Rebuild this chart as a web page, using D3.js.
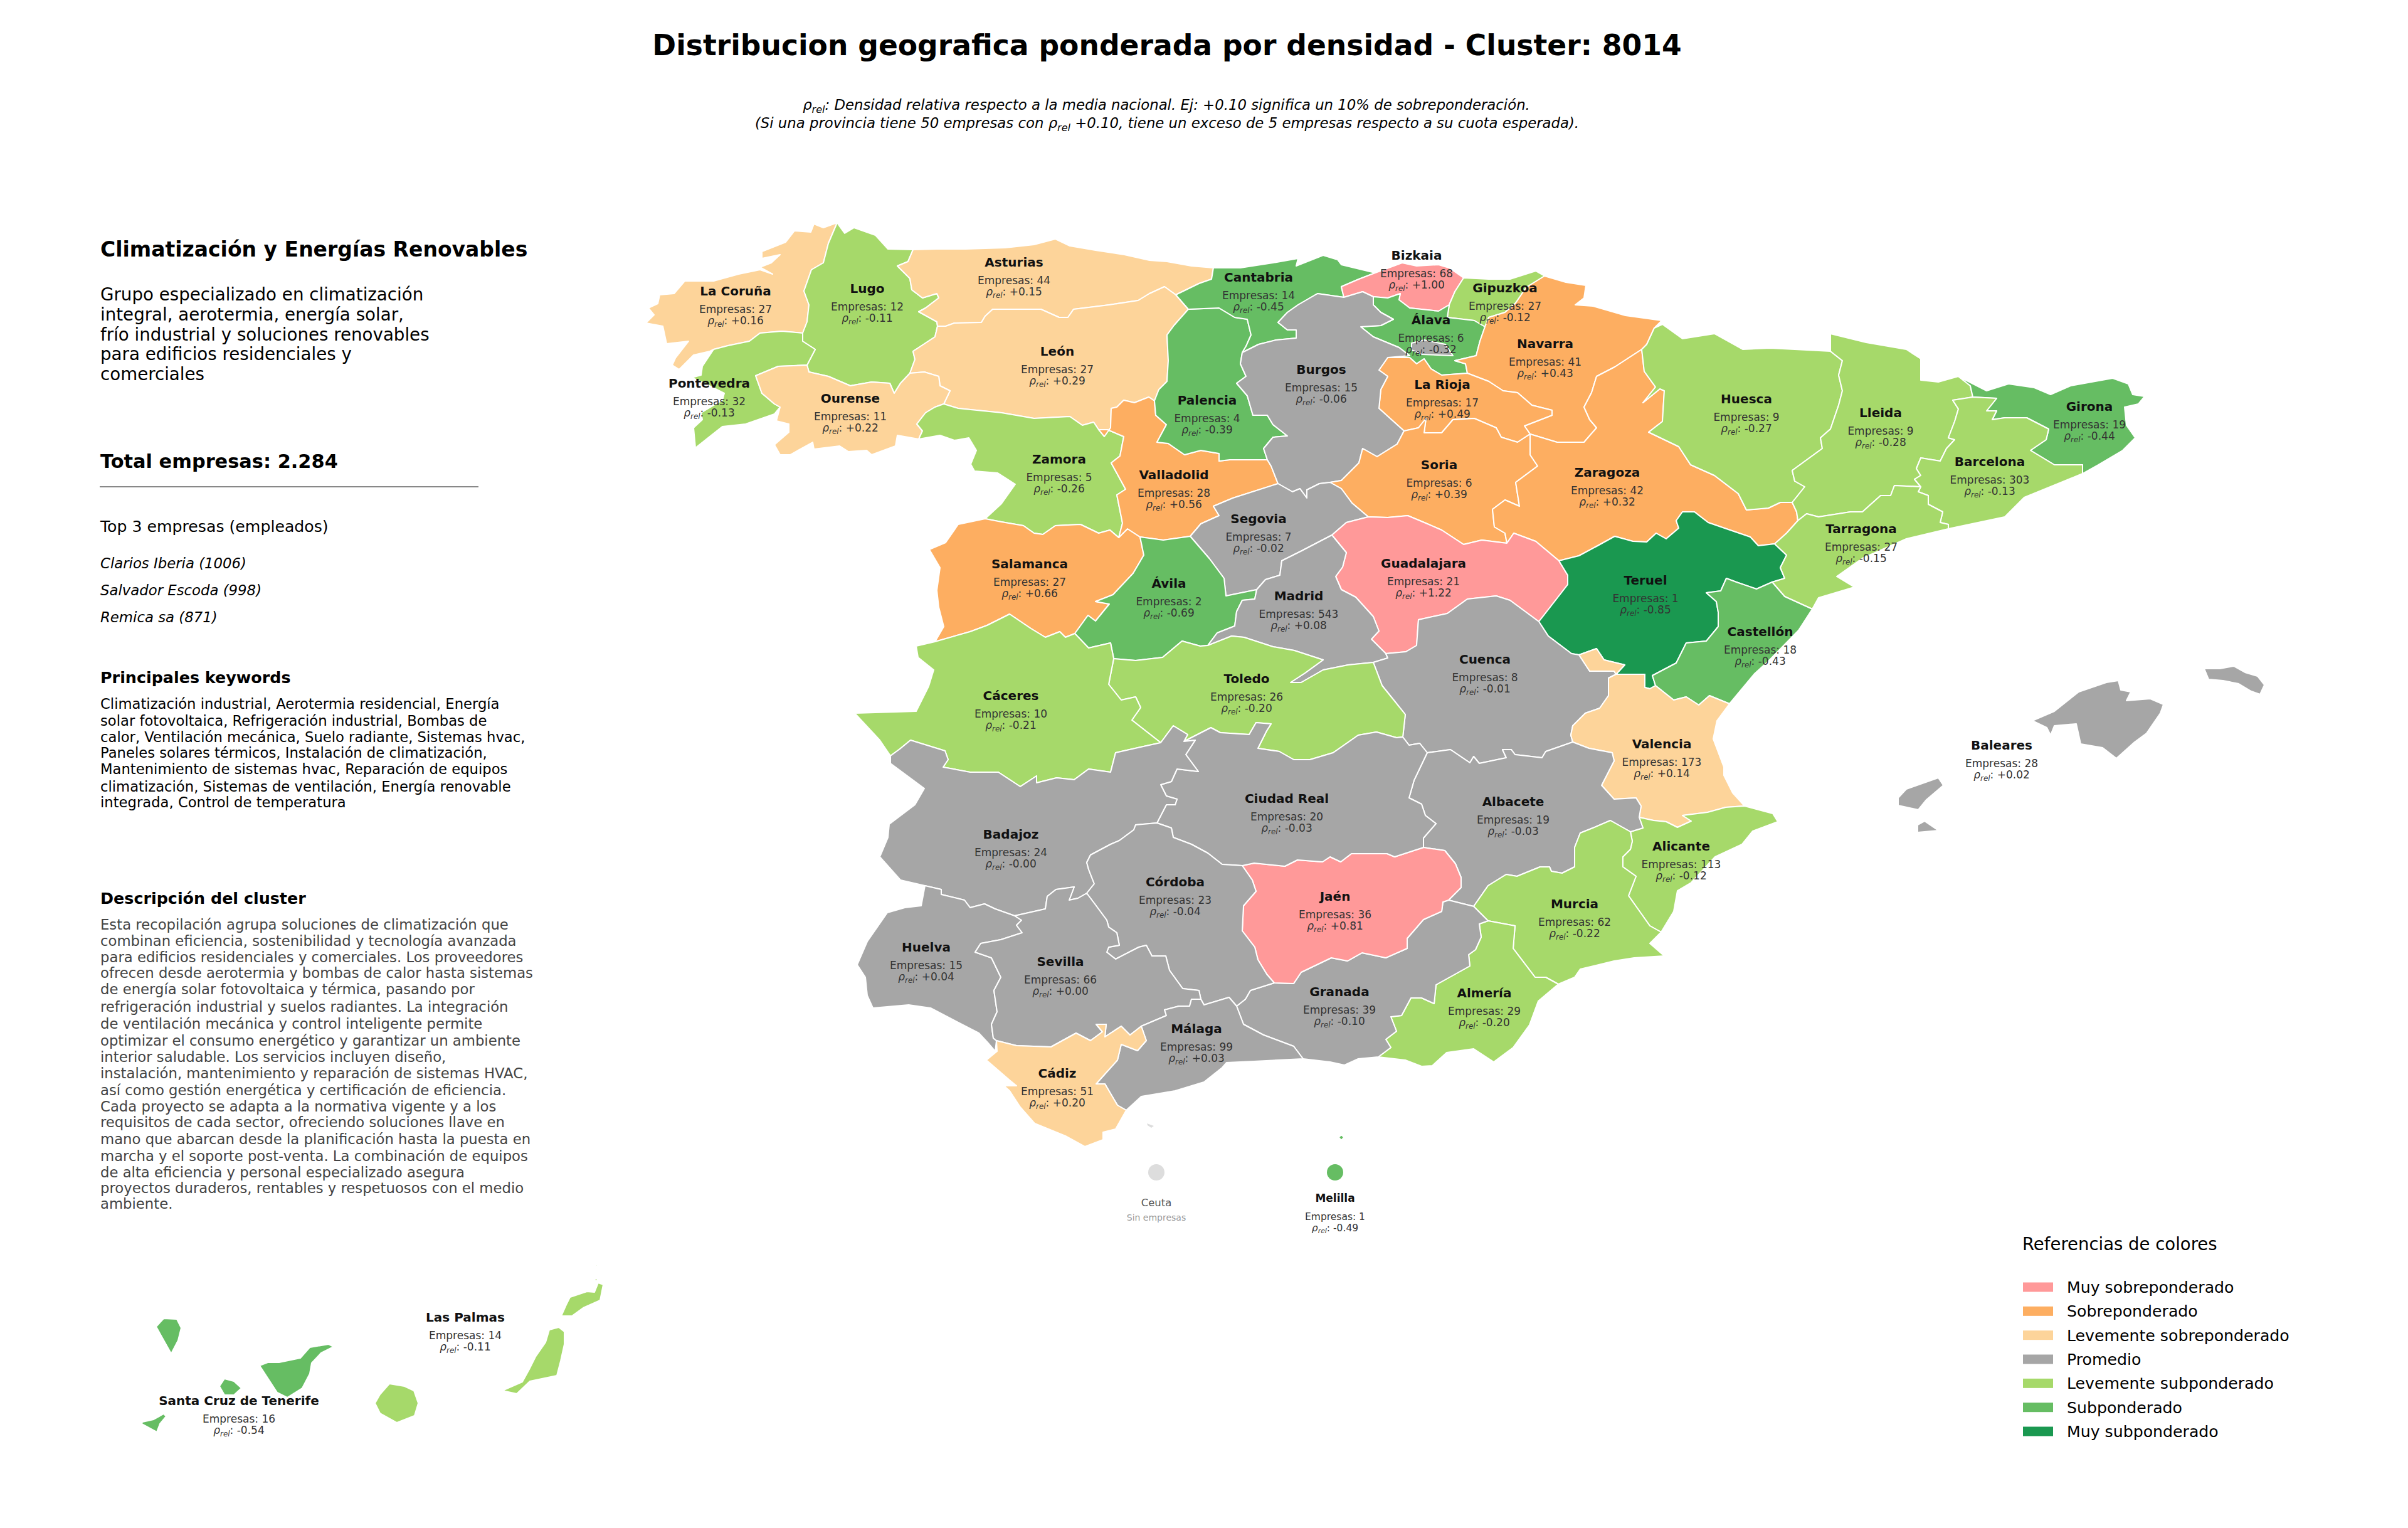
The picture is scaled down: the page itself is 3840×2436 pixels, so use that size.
<!DOCTYPE html>
<html>
<head>
<meta charset="utf-8">
<script src="https://cdn.jsdelivr.net/npm/d3@7"></script>
<style>
  html, body { margin: 0; padding: 0; background: #fff; }
  svg { display: block; font-family: "DejaVu Sans", sans-serif; }
</style>
</head>
<body>
<svg id="chart" width="3840" height="2436"></svg>
<script>
// values
const provinceNames = ["La Coruña","Lugo","Asturias","León","Pontevedra","Ourense","Zamora","Salamanca","Valladolid","Palencia",
  "Cantabria","Bizkaia","Gipuzkoa","Álava","Navarra","La Rioja","Burgos","Soria","Segovia","Zaragoza",
  "Guadalajara","Ávila","Madrid","Teruel","Cuenca","Toledo","Huesca","Lleida","Girona","Barcelona",
  "Tarragona","Castellón","Baleares","Valencia","Alicante","Albacete","Murcia","Almería","Granada","Jaén",
  "Ciudad Real","Cáceres","Badajoz","Córdoba","Huelva","Sevilla","Málaga","Cádiz","Las Palmas","Santa Cruz de Tenerife","Melilla"];
const empresas = [27,12,44,27,32,11,5,27,28,4,
  14,68,27,6,41,17,15,6,7,42,
  21,2,543,1,8,26,9,9,19,303,
  27,18,28,173,113,19,62,29,39,36,
  20,10,24,23,15,66,99,51,14,16,1];
const rhoRel = [0.16,-0.11,0.15,0.29,-0.13,0.22,-0.26,0.66,0.56,-0.39,
  -0.45,1.00,-0.12,-0.32,0.43,0.49,-0.06,0.39,-0.02,0.32,
  1.22,-0.69,0.08,-0.85,-0.01,-0.20,-0.27,-0.28,-0.44,-0.13,
  -0.15,-0.43,0.02,0.14,-0.12,-0.03,-0.22,-0.20,-0.10,0.81,
  -0.03,-0.21,-0,-0.04,0.04,0.00,0.03,0.20,-0.11,-0.54,-0.49];

const legendLabels = ["Muy sobreponderado","Sobreponderado","Levemente sobreponderado","Promedio","Levemente subponderado","Subponderado","Muy subponderado"];
const topCompanies = ["Clarios Iberia (1006)","Salvador Escoda (998)","Remica sa (871)"];
const groupLines = ["Grupo especializado en climatización","integral, aerotermia, energía solar,","frío industrial y soluciones renovables","para edificios residenciales y","comerciales"];
const keywordLines = ["Climatización industrial, Aerotermia residencial, Energía","solar fotovoltaica, Refrigeración industrial, Bombas de","calor, Ventilación mecánica, Suelo radiante, Sistemas hvac,","Paneles solares térmicos, Instalación de climatización,","Mantenimiento de sistemas hvac, Reparación de equipos","climatización, Sistemas de ventilación, Energía renovable","integrada, Control de temperatura"];
const descriptionLines = ["Esta recopilación agrupa soluciones de climatización que","combinan eficiencia, sostenibilidad y tecnología avanzada","para edificios residenciales y comerciales. Los proveedores","ofrecen desde aerotermia y bombas de calor hasta sistemas","de energía solar fotovoltaica y térmica, pasando por","refrigeración industrial y suelos radiantes. La integración","de ventilación mecánica y control inteligente permite","optimizar el consumo energético y garantizar un ambiente","interior saludable. Los servicios incluyen diseño,","instalación, mantenimiento y reparación de sistemas HVAC,","así como gestión energética y certificación de eficiencia.","Cada proyecto se adapta a la normativa vigente y a los","requisitos de cada sector, ofreciendo soluciones llave en","mano que abarcan desde la planificación hasta la puesta en","marcha y el soporte post-venta. La combinación de equipos","de alta eficiencia y personal especializado asegura","proyectos duraderos, rentables y respetuosos con el medio","ambiente."];

// province borders, shared between neighbours
const arcs = {
  coruCoast: [[1335,355],[1313,363],[1298,357],[1293,370],[1267,368],[1253,386],[1215,401],[1215,412],[1244,406],[1230,419],[1212,426],[1232,437],[1212,430],[1178,437],[1138,448],[1092,448],[1075,468],[1052,470],[1049,484],[1034,491],[1043,502],[1030,515],[1057,520],[1063,548],[1098,544],[1077,571],[1072,582],[1083,589],[1106,566],[1132,560],[1138,557]],
  coruPont: [[1138,557],[1161,551],[1195,544],[1212,531],[1247,528],[1280,531]],
  coruLugo: [[1280,531],[1287,513],[1290,486],[1282,464],[1294,430],[1313,419],[1321,388],[1335,355]],
  lugoCoast: [[1335,355],[1339,361],[1347,372],[1362,363],[1396,375],[1416,397],[1456,398]],
  lugoAst: [[1456,398],[1448,417],[1431,424],[1451,444],[1454,462],[1471,475],[1494,468],[1497,475],[1476,491],[1465,497],[1494,513],[1495,520]],
  lugoLeon: [[1495,520],[1491,537],[1456,560],[1459,573],[1451,595]],
  lugoOur: [[1451,595],[1436,611],[1426,627],[1419,611],[1390,609],[1356,615],[1321,600],[1290,593],[1287,582]],
  lugoPont: [[1287,582],[1300,557],[1280,544],[1280,531]],
  pontCoast: [[1138,557],[1120,584],[1118,598],[1103,602],[1125,612],[1155,627],[1152,638],[1118,658],[1120,669],[1106,682],[1109,714],[1138,691],[1152,680],[1189,676],[1235,660],[1244,649]],
  pontOur: [[1244,649],[1235,644],[1215,627],[1205,599],[1241,584],[1287,582]],
  ourLeon: [[1451,595],[1474,593],[1497,600],[1499,615],[1515,623],[1505,644]],
  ourZam: [[1505,644],[1491,649],[1476,658],[1462,676],[1471,687],[1465,700]],
  ourSouth: [[1465,700],[1431,694],[1428,711],[1390,725],[1382,718],[1353,720],[1339,711],[1298,716],[1296,705],[1260,725],[1244,725],[1235,709],[1258,689],[1258,676],[1238,671],[1241,660],[1244,649]],
  astCoast: [[1456,398],[1494,397],[1540,397],[1603,395],[1649,390],[1683,381],[1706,392],[1747,399],[1793,406],[1833,415],[1861,417],[1900,424],[1935,427]],
  astCant: [[1935,427],[1932,445],[1912,452],[1875,470]],
  astLeon: [[1495,520],[1508,520],[1522,515],[1565,514],[1571,504],[1583,493],[1611,493],[1660,493],[1689,506],[1703,506],[1712,493],[1769,486],[1815,479],[1833,468],[1857,457],[1875,470]],
  leonCant: [[1875,470],[1895,493]],
  leonPal: [[1895,493],[1872,519],[1861,534],[1863,575],[1861,608],[1848,621],[1841,639]],
  leonVall: [[1841,639],[1832,633],[1809,642],[1792,638],[1781,649],[1772,651],[1771,682],[1761,696],[1752,685]],
  zamLeon: [[1505,644],[1528,651],[1597,658],[1649,667],[1706,664],[1726,678],[1744,673],[1752,685]],
  zamPort: [[1465,700],[1499,694],[1522,702],[1545,698],[1557,718],[1548,740],[1554,751],[1591,754],[1619,772],[1597,803],[1571,827]],
  zamVall: [[1752,685],[1766,685],[1792,696],[1786,727],[1772,738],[1795,780],[1781,789],[1790,834],[1784,857]],
  zamSal: [[1784,857],[1770,845],[1752,850],[1723,836],[1683,838],[1663,852],[1649,850],[1632,838],[1597,832],[1571,827]],
  salPort: [[1571,827],[1528,836],[1508,865],[1482,876],[1499,905],[1494,941],[1497,968],[1505,999],[1491,1023]],
  salCac: [[1491,1023],[1547,1007],[1574,997],[1610,979],[1644,1002],[1667,1016],[1690,1007],[1699,1016],[1714,1010]],
  salVall: [[1784,857],[1798,843],[1818,856]],
  salAvi: [[1818,856],[1824,885],[1807,914],[1775,948],[1747,959],[1769,963],[1747,990],[1735,981],[1714,1010]],
  avVall: [[1818,856],[1855,861],[1898,855]],
  valSeg: [[1898,855],[1915,835],[1944,822],[1935,807],[1966,794],[2038,771]],
  valBur: [[2038,771],[2027,743],[2021,733]],
  valPal: [[2021,733],[1989,733],[1961,733],[1944,735],[1944,723],[1915,718],[1889,725],[1863,707],[1845,705],[1860,677],[1843,662],[1841,639]],
  palCant: [[1895,493],[1944,491],[1969,506],[1989,509],[1995,534],[1987,552],[1981,562]],
  palBur: [[1981,562],[1978,580],[1987,600],[1972,611],[1989,631],[1998,662],[2021,662],[2030,677],[2053,695],[2030,697],[2015,715],[2021,733]],
  cantCoast: [[1935,427],[1978,427],[2030,419],[2070,412],[2067,424],[2110,407],[2133,414],[2139,422],[2193,435]],
  cantEnd: [[2193,435],[2167,445],[2139,457],[2143,474]],
  cantBur: [[2143,474],[2101,468],[2070,486],[2053,498],[2038,514],[2053,526],[2067,526],[2067,539],[2035,542],[2007,549],[1981,562]],
  burBiz: [[2143,474],[2173,465],[2190,473]],
  burAla: [[2190,473],[2190,486],[2202,498],[2222,509],[2202,519],[2170,521],[2190,537],[2231,554],[2248,567],[2213,570]],
  burRio: [[2213,570],[2199,590],[2213,600],[2202,621],[2199,651],[2239,687]],
  burSor: [[2239,687],[2228,708],[2196,728],[2173,715],[2167,738],[2139,766],[2121,769]],
  burSeg: [[2121,769],[2104,771],[2084,781],[2084,794],[2073,779],[2061,784],[2038,771]],
  bizCoast: [[2193,435],[2236,419],[2259,424],[2294,422],[2311,427],[2334,443]],
  bizGip: [[2334,443],[2320,465],[2311,486]],
  bizAla: [[2311,486],[2294,496],[2248,491],[2231,478],[2233,468],[2213,475],[2190,473]],
  gipCoast: [[2334,443],[2374,445],[2408,445],[2449,432],[2463,440]],
  gipNav: [[2463,440],[2434,458],[2417,483],[2400,498],[2374,506],[2368,521]],
  gipAla: [[2368,521],[2351,511],[2308,506],[2311,486]],
  alaNav: [[2368,521],[2360,544],[2354,567],[2320,575],[2337,580],[2340,595]],
  alaRio: [[2340,595],[2299,598],[2282,588],[2271,572],[2259,580],[2248,570],[2213,570]],
  rioNav: [[2340,595],[2374,608],[2397,623],[2420,626],[2443,646],[2475,654],[2475,662],[2431,679],[2440,692]],
  rioSor: [[2239,687],[2262,682],[2274,667],[2271,690],[2299,690],[2317,669],[2351,667],[2386,682],[2394,697],[2420,705],[2440,692]],
  navCoast: [[2463,440],[2497,450],[2529,455],[2526,475],[2512,486],[2540,488],[2592,503],[2650,511],[2638,523]],
  navHue: [[2638,523],[2626,549],[2618,557]],
  navZar: [[2618,557],[2575,585],[2546,600],[2538,626],[2526,649],[2535,669],[2546,682],[2526,705],[2483,705],[2440,692]],
  hueTop: [[2638,523],[2651,517],[2683,540],[2734,532],[2779,557],[2823,555],[2862,557],[2919,560]],
  hueLle: [[2919,560],[2938,575],[2932,598],[2938,623],[2932,646],[2919,684],[2903,698],[2906,715],[2858,750],[2862,767],[2878,776],[2858,801]],
  hueZar: [[2618,557],[2622,592],[2640,617],[2620,642],[2647,620],[2654,623],[2651,672],[2629,689],[2677,712],[2696,741],[2734,758],[2772,787],[2785,813],[2820,810],[2839,801],[2858,801]],
  zarLle: [[2858,801],[2865,816],[2867,830]],
  zarTar: [[2867,830],[2849,850],[2830,867]],
  zarTer: [[2830,867],[2804,870],[2791,856],[2750,842],[2724,833],[2702,816],[2683,816],[2673,830],[2677,842],[2657,859],[2641,850],[2626,864],[2604,863],[2575,855],[2546,871],[2518,886],[2486,894]],
  zarGua: [[2486,894],[2449,863],[2414,850],[2403,866]],
  zarSor: [[2403,866],[2400,850],[2383,840],[2380,812],[2400,797],[2423,807],[2417,769],[2452,743],[2440,725],[2440,692]],
  sorGua: [[2403,866],[2363,861],[2334,868],[2299,845],[2276,835],[2245,822],[2213,825],[2182,824]],
  sorSeg: [[2182,824],[2156,802],[2139,779],[2121,769]],
  segGua: [[2182,824],[2147,833],[2124,853]],
  segMad: [[2124,853],[2099,866],[2076,878],[2044,894],[2041,917],[2018,924],[2004,940]],
  segAvi: [[2004,940],[1955,950],[1952,922],[1929,891],[1898,855]],
  aviMad: [[2004,940],[2001,955],[1981,957],[1972,975],[1969,998],[1941,1009],[1926,1029]],
  aviTol: [[1926,1029],[1914,1030],[1885,1022],[1854,1048],[1811,1053],[1776,1050]],
  aviCac: [[1776,1050],[1771,1025],[1736,1033],[1714,1010]],
  madGua: [[2124,853],[2147,881],[2141,904],[2130,919],[2139,940],[2162,952],[2190,983],[2199,1006],[2187,1019],[2210,1042]],
  madCue: [[2210,1042],[2213,1049],[2190,1056]],
  madTol: [[1926,1029],[1964,1014],[1984,1016],[2030,1031],[2064,1037],[2110,1052],[2081,1073],[2058,1088],[2075,1088],[2110,1068],[2150,1060],[2190,1056]],
  guaCue: [[2210,1042],[2242,1039],[2259,1029],[2262,988],[2308,978],[2340,955],[2386,950],[2408,957],[2454,991]],
  guaTer: [[2454,991],[2472,968],[2500,932],[2500,917],[2486,894]],
  terTar: [[2830,867],[2849,885],[2839,905],[2846,922],[2826,928]],
  terCas: [[2826,928],[2801,939],[2769,928],[2753,922],[2744,942],[2721,945],[2737,959],[2740,976],[2740,999],[2721,1022],[2689,1025],[2673,1057],[2635,1077],[2640,1093]],
  terVal: [[2640,1093],[2631,1098],[2623,1096],[2623,1075],[2577,1075]],
  terAde: [[2577,1075],[2591,1060],[2558,1052],[2546,1034],[2518,1044]],
  terCue: [[2518,1044],[2506,1042],[2469,1014],[2454,991]],
  ademCue: [[2518,1044],[2535,1070],[2574,1070],[2577,1075]],
  valCue: [[2508,1183],[2505,1172],[2508,1157],[2528,1137],[2551,1129],[2565,1109],[2565,1081],[2577,1075]],
  cueAlb: [[2276,1200],[2313,1195],[2344,1216],[2350,1206],[2359,1217],[2402,1208],[2396,1195],[2410,1195],[2416,1203],[2459,1208],[2465,1198],[2508,1183]],
  cueCr: [[2237,1175],[2247,1188],[2264,1185],[2276,1200]],
  tolCue: [[2190,1056],[2204,1093],[2221,1114],[2241,1139],[2237,1175]],
  tolCr: [[2237,1175],[2227,1176],[2195,1167],[2166,1172],[2126,1200],[2089,1211],[2063,1211],[2040,1198],[2006,1193],[2020,1165],[2027,1154],[2003,1152],[1992,1171],[1946,1168],[1931,1160],[1888,1182]],
  tolBad: [[1888,1182],[1894,1171],[1871,1157],[1851,1184]],
  cacTol: [[1851,1184],[1805,1148],[1819,1128],[1811,1111],[1788,1116],[1768,1091],[1776,1050]],
  cacPort: [[1491,1023],[1461,1030],[1464,1048],[1489,1068],[1481,1094],[1461,1134],[1363,1137],[1403,1180],[1420,1205]],
  cacBad: [[1420,1205],[1435,1194],[1452,1180],[1507,1197],[1512,1211],[1504,1223],[1547,1231],[1592,1231],[1627,1254],[1653,1237],[1653,1248],[1685,1240],[1713,1243],[1736,1226],[1771,1231],[1779,1200],[1819,1191],[1851,1184]],
  crBad: [[1888,1182],[1906,1180],[1891,1203],[1911,1230],[1877,1226],[1868,1246],[1851,1251],[1860,1269],[1877,1274],[1874,1283],[1860,1283],[1845,1312]],
  crCor: [[1845,1312],[1868,1320],[1871,1335],[1900,1346],[1926,1360],[1949,1378],[1981,1380]],
  crJae: [[2270,1351],[2224,1366],[2212,1361],[2155,1361],[2138,1374],[2121,1366],[2109,1374],[2069,1371],[2049,1381],[2000,1376],[1981,1380]],
  crAlb: [[2276,1200],[2255,1244],[2247,1272],[2267,1282],[2273,1300],[2290,1313],[2270,1336],[2270,1351]],
  albVal: [[2614,1303],[2617,1285],[2609,1272],[2574,1274],[2554,1252],[2574,1213],[2571,1200],[2534,1193],[2508,1183]],
  albAli: [[2614,1303],[2620,1320],[2600,1326]],
  albMur: [[2600,1326],[2568,1308],[2540,1320],[2520,1328],[2511,1351],[2511,1382],[2491,1392],[2474,1389],[2471,1382],[2456,1382],[2419,1397],[2402,1394],[2373,1412],[2350,1445]],
  albGra: [[2350,1445],[2310,1435]],
  albJae: [[2310,1435],[2330,1415],[2330,1399],[2321,1377],[2304,1356],[2270,1351]],
  jaeCor: [[1981,1380],[1997,1403],[2003,1421],[1983,1444],[1981,1484],[2001,1510],[2006,1530],[2020,1553],[2032,1567]],
  jaeGra: [[2032,1567],[2063,1568],[2075,1550],[2123,1527],[2149,1532],[2172,1519],[2210,1527],[2244,1512],[2244,1496],[2270,1466],[2299,1453],[2301,1438],[2310,1435]],
  corGra: [[2032,1567],[1994,1579],[1986,1593],[1972,1604]],
  graMal: [[1972,1604],[1983,1633],[2015,1650],[2063,1668],[2078,1688]],
  graCoast: [[2078,1688],[2121,1693],[2144,1698],[2166,1688],[2198,1685]],
  graAlm: [[2198,1685],[2218,1670],[2210,1657],[2227,1644],[2218,1621],[2235,1619],[2250,1591],[2267,1591],[2287,1600],[2290,1570],[2344,1540],[2342,1522],[2353,1514],[2362,1494],[2359,1473],[2373,1468]],
  graMur: [[2373,1468],[2350,1445]],
  almMur: [[2373,1468],[2416,1476],[2413,1512],[2448,1558],[2465,1558],[2485,1569]],
  almCoast: [[2485,1569],[2453,1596],[2439,1634],[2413,1670],[2382,1693],[2350,1672],[2307,1678],[2284,1699],[2267,1700],[2241,1690],[2198,1685]],
  murCoast: [[2485,1569],[2511,1558],[2520,1545],[2574,1532],[2606,1527],[2654,1524],[2631,1504],[2649,1486]],
  aliMur: [[2649,1486],[2631,1476],[2597,1428],[2609,1397],[2588,1382],[2588,1366],[2600,1354],[2603,1341],[2600,1326]],
  aliCoast: [[2649,1486],[2669,1453],[2675,1420],[2697,1407],[2735,1366],[2778,1346],[2795,1325],[2835,1310],[2827,1297],[2782,1285]],
  valAli: [[2782,1285],[2752,1287],[2723,1295],[2683,1300],[2697,1309],[2675,1319],[2657,1310],[2637,1308],[2614,1303]],
  valCas: [[2640,1093],[2669,1116],[2689,1111],[2709,1124],[2726,1109],[2758,1122]],
  valCoast: [[2758,1122],[2738,1149],[2732,1178],[2749,1223],[2749,1236],[2763,1264],[2782,1285]],
  casTar: [[2826,928],[2846,951],[2890,971]],
  casCoast: [[2890,971],[2868,1005],[2820,1054],[2798,1074],[2758,1122]],
  tarCoast: [[2890,971],[2900,953],[2957,936],[2929,919],[2970,890],[3040,859],[3107,843]],
  lleTar: [[2867,830],[2881,819],[2900,824],[2951,816],[2970,816],[2999,790],[3015,790],[3021,774],[3063,776]],
  tarBcn: [[3063,776],[3059,784],[3075,790],[3075,804],[3098,816],[3094,833],[3107,836],[3107,843]],
  lleTop: [[2919,560],[2919,532],[2976,546],[3040,557],[3063,572],[3063,606],[3091,609],[3123,600]],
  lleGir: [[3123,600],[3142,615],[3146,633]],
  lleBcn: [[3146,633],[3114,638],[3123,652],[3117,672],[3107,698],[3117,701],[3104,715],[3094,735],[3063,730],[3056,747],[3063,758],[3053,764],[3063,776]],
  bcnGir: [[3146,633],[3184,635],[3168,655],[3184,655],[3177,669],[3197,666],[3232,666],[3267,684],[3263,701],[3238,718],[3276,741],[3321,741],[3321,755]],
  bcnCoast: [[3321,755],[3228,793],[3197,824],[3107,843]],
  girCoast: [[3123,600],[3168,623],[3203,612],[3244,618],[3270,629],[3302,615],[3369,603],[3394,612],[3401,629],[3420,632],[3410,644],[3388,649],[3391,678],[3405,698],[3385,718],[3346,741],[3321,755]],
  badPort: [[1420,1205],[1420,1217],[1474,1257],[1459,1283],[1418,1314],[1416,1335],[1403,1366],[1436,1403],[1475,1412]],
  badHue: [[1475,1412],[1501,1418],[1501,1426],[1538,1435],[1547,1447],[1570,1441],[1587,1449],[1618,1460]],
  badSev: [[1618,1460],[1667,1449],[1670,1429],[1684,1418],[1713,1414],[1705,1435],[1719,1432],[1733,1424]],
  badCor: [[1733,1424],[1745,1409],[1736,1386],[1733,1375],[1739,1363],[1771,1346],[1785,1340],[1808,1323],[1811,1315],[1845,1312]],
  corSev: [[1733,1424],[1748,1444],[1765,1467],[1768,1478],[1781,1487],[1785,1507],[1768,1510],[1765,1518],[1779,1529],[1816,1510],[1828,1507],[1837,1524],[1859,1524],[1865,1547],[1886,1576],[1912,1579],[1915,1593]],
  corMal: [[1915,1593],[1920,1602],[1960,1590],[1972,1604]],
  sevMal: [[1915,1593],[1900,1593],[1897,1604],[1880,1604],[1857,1610],[1860,1619],[1820,1636]],
  sevCad: [[1820,1636],[1802,1650],[1788,1636],[1762,1653],[1764,1633],[1748,1633],[1758,1645],[1739,1659],[1716,1647],[1676,1669],[1621,1667],[1589,1659]],
  cadMal: [[1820,1636],[1828,1659],[1814,1675],[1788,1665],[1782,1690],[1756,1719],[1748,1728],[1762,1728],[1782,1762],[1796,1770]],
  cadCoast: [[1796,1770],[1779,1800],[1759,1805],[1759,1817],[1730,1828],[1699,1811],[1650,1791],[1627,1765],[1610,1739],[1601,1731],[1621,1731],[1610,1722],[1573,1690],[1590,1676],[1589,1659]],
  malCoast: [[1796,1770],[1820,1748],[1874,1739],[1920,1725],[1949,1702],[1956,1694],[2000,1692],[2078,1688]],
  hueSev: [[1618,1460],[1629,1467],[1621,1475],[1630,1487],[1596,1498],[1564,1504],[1555,1518],[1581,1527],[1596,1558],[1585,1579],[1590,1613],[1581,1633],[1584,1655],[1589,1659]],
  hueCoast: [[1589,1659],[1587,1676],[1575,1662],[1561,1647],[1484,1607],[1449,1602],[1392,1607],[1383,1587],[1380,1558],[1367,1538],[1383,1501],[1415,1455],[1443,1447],[1469,1444],[1475,1412]]
};

// which borders close each province, "-" runs a border backwards
const provinceRings = {
  "La Coruña": [["coruCoast","coruPont","coruLugo"]],
  "Lugo": [["lugoCoast","lugoAst","lugoLeon","lugoOur","lugoPont","coruLugo"]],
  "Asturias": [["astCoast","astCant","-astLeon","-lugoAst"]],
  "León": [["astLeon","leonCant","leonPal","leonVall","-zamLeon","-ourLeon","-lugoLeon"]],
  "Pontevedra": [["pontCoast","pontOur","lugoPont","-coruPont"]],
  "Ourense": [["-lugoOur","ourLeon","ourZam","ourSouth","pontOur"]],
  "Zamora": [["zamLeon","zamVall","zamSal","-zamPort","-ourZam"]],
  "Salamanca": [["-zamSal","salVall","salAvi","-salCac","-salPort"]],
  "Valladolid": [["leonVall","zamVall","salVall","avVall","valSeg","valBur","valPal"]],
  "Palencia": [["-leonPal","palCant","palBur","valPal"]],
  "Cantabria": [["cantCoast","cantEnd","cantBur","-palCant","-leonCant","-astCant"]],
  "Burgos": [["-cantBur","burBiz","burAla","burRio","burSor","burSeg","valBur","-palBur"]],
  "Bizkaia": [["-cantEnd","bizCoast","bizGip","bizAla","-burBiz"]],
  "Gipuzkoa": [["gipCoast","gipNav","gipAla","-bizGip"]],
  "Álava": [["-bizAla","-gipAla","alaNav","alaRio","-burAla"]],
  "La Rioja": [["-alaRio","rioNav","-rioSor","-burRio"]],
  "Navarra": [["navCoast","navHue","navZar","-rioNav","-alaNav","-gipNav"]],
  "Huesca": [["hueTop","hueLle","-hueZar","-navHue"]],
  "Zaragoza": [["hueZar","zarLle","zarTar","zarTer","zarGua","zarSor","-navZar"]],
  "Soria": [["rioSor","-zarSor","sorGua","sorSeg","-burSor"]],
  "Segovia": [["-burSeg","-sorSeg","segGua","segMad","segAvi","valSeg"]],
  "Guadalajara": [["-sorGua","-zarGua","-guaTer","-guaCue","-madGua","-segGua"]],
  "Ávila": [["-salAvi","avVall","-segAvi","aviMad","aviTol","aviCac"]],
  "Madrid": [["-segMad","madGua","madCue","-madTol","-aviMad"]],
  "Teruel": [["-zarTer","terTar","terCas","terVal","terAde","terCue","guaTer"]],
  "Cuenca": [["guaCue","-terCue","ademCue","-valCue","-cueAlb","-cueCr","-tolCue","-madCue"]],
  "Toledo": [["madTol","tolCue","tolCr","tolBad","cacTol","-aviTol"]],
  "Cáceres": [["salCac","-aviCac","-cacTol","-cacBad","-cacPort"]],
  "Badajoz": [["cacBad","-tolBad","crBad","-badCor","-badSev","-badHue","-badPort"]],
  "Ciudad Real": [["-tolCr","cueCr","crAlb","crJae","-crCor","-crBad"]],
  "Albacete": [["cueAlb","-albVal","albAli","albMur","albGra","albJae","-crAlb"]],
  "Valencia": [["-terVal","valCas","valCoast","valAli","albVal","valCue"],["terAde","ademCue"]],
  "Castellón": [["-terCas","casTar","casCoast","-valCas"]],
  "Tarragona": [["-zarTar","lleTar","tarBcn","-tarCoast","-casTar","-terTar"]],
  "Lleida": [["lleTop","lleGir","lleBcn","-lleTar","-zarLle","-hueLle"]],
  "Barcelona": [["-lleBcn","bcnGir","bcnCoast","-tarBcn"]],
  "Girona": [["girCoast","-bcnGir","-lleGir"]],
  "Alicante": [["-valAli","-aliCoast","aliMur","-albAli"]],
  "Murcia": [["-albMur","-aliMur","-murCoast","-almMur","graMur"]],
  "Almería": [["almMur","almCoast","graAlm"]],
  "Granada": [["graAlm","graMur","albGra","-jaeGra","corGra","graMal","graCoast"]],
  "Jaén": [["-crJae","-albJae","-jaeGra","-jaeCor"]],
  "Córdoba": [["crCor","jaeCor","corGra","-corMal","-corSev","badCor"]],
  "Sevilla": [["badSev","corSev","sevMal","sevCad","-hueSev"]],
  "Málaga": [["corMal","graMal","-malCoast","-cadMal","-sevMal"]],
  "Cádiz": [["-sevCad","cadMal","cadCoast"]],
  "Huelva": [["badHue","hueSev","hueCoast"]]
};

// islands, enclaves and the two small cities have no shared border
const looseOutlines = {
  "Baleares": [
    [[3241,1149],[3276,1134],[3315,1103],[3359,1088],[3378,1085],[3382,1100],[3398,1103],[3391,1117],[3429,1114],[3450,1123],[3445,1137],[3423,1169],[3404,1183],[3375,1209],[3353,1192],[3318,1186],[3315,1172],[3311,1154],[3276,1157],[3270,1172],[3264,1160]],
    [[3515,1066],[3540,1066],[3562,1062],[3580,1072],[3600,1078],[3611,1092],[3604,1107],[3590,1102],[3570,1090],[3545,1085],[3522,1083]],
    [[3027,1272],[3040,1258],[3091,1240],[3099,1252],[3072,1275],[3059,1291],[3027,1284]],
    [[3058,1315],[3069,1309],[3091,1324],[3058,1327]]
  ],
  "Santa Cruz de Tenerife": [
    [[261,2102],[282,2103],[289,2117],[284,2137],[273,2158],[259,2133],[249,2115]],
    [[414,2177],[427,2172],[445,2172],[479,2165],[494,2148],[524,2143],[532,2147],[512,2157],[497,2173],[494,2190],[482,2213],[458,2228],[442,2220],[427,2197]],
    [[358,2198],[373,2202],[385,2213],[373,2224],[358,2224],[350,2210]],
    [[261,2254],[265,2258],[255,2270],[250,2283],[226,2270],[227,2267],[245,2263]]
  ],
  "Las Palmas": [
    [[621,2206],[645,2210],[660,2217],[667,2237],[661,2257],[633,2268],[606,2253],[598,2237],[606,2223]],
    [[876,2120],[891,2116],[900,2123],[900,2143],[894,2170],[888,2193],[845,2202],[824,2222],[801,2217],[833,2203],[844,2183],[854,2163],[870,2140]],
    [[895,2098],[903,2080],[909,2068],[936,2059],[948,2060],[954,2045],[962,2048],[957,2073],[930,2085],[912,2098]],
    [[950,2037],[954,2042],[948,2042]],
    [[950,2015],[953,2018],[950,2020]]
  ],
  "Burgos": [[[2251,547],[2271,542],[2305,549],[2317,567],[2268,565],[2251,558]]],
  "Bizkaia": [[[2230,492],[2256,502],[2247,510],[2232,503]]],
  "Melilla": [[[2139,1809],[2143,1813],[2139,1818],[2135,1813]]]
};
const ceutaOutline = [[1829,1791],[1840,1795],[1836,1798],[1830,1794]];

// name position of every province, same order as provinceNames
const labelAnchors = [[1173,464],[1383,460],[1617,418],[1686,560],[1131,611],[1356,635],[1689,732],[1642,899],[1872,757],[1925,638],
  [2007,442],[2259,407],[2400,459],[2282,510],[2464,548],[2300,613],[2107,589],[2295,741],[2007,827],[2563,753],
  [2270,898],[1864,930],[2071,950],[2624,925],[2368,1051],[1988,1082],[2785,636],[2999,658],[3332,648],[3173,736],
  [2968,843],[2807,1007],[3192,1188],[2650,1186],[2681,1349],[2413,1278],[2511,1441],[2367,1583],[2136,1581],[2129,1429],
  [2052,1273],[1612,1109],[1612,1330],[1874,1406],[1477,1510],[1691,1533],[1908,1640],[1686,1711],[742,2100],[381,2233],[2129,1910]];

const categoryColors = ["#1a9850","#66bd63","#a6d96a","#a6a6a6","#fdd49a","#fdae61","#ff9999"];
const color = d3.scaleThreshold()
    .domain([-0.75, -0.30, -0.10, 0.10, 0.30, 0.75])
    .range(categoryColors);
const legendColors = categoryColors.slice().reverse();

const signed = d3.formatLocale({decimal: ".", thousands: ",", grouping: [3], currency: ["", ""], minus: "-"}).format("+.2f");

const svg = d3.select("#chart");

const closeRing = ring => ring.concat([ring[0]]);
const ringFromArcs = names => closeRing(names.flatMap(n =>
    n[0] === "-" ? arcs[n.slice(1)].slice().reverse() : arcs[n]));

// geojson built from the traced outlines
const features = [];
provinceNames.forEach((name, i) => {
    const rings = [];
    (provinceRings[name] || []).forEach(r => rings.push(ringFromArcs(r)));
    (looseOutlines[name] || []).forEach(r => rings.push(closeRing(r)));
    features.push({
        type: "Feature",
        properties: {name: name, rho: rhoRel[i]},
        geometry: {type: "MultiPolygon", coordinates: rings.map(r => [r])}
    });
});

const projection = d3.geoIdentity();
const path = d3.geoPath(projection);

svg.append("g").selectAll("path")
    .data(features)
    .join("path")
    .attr("d", path)
    .attr("fill", d => color(d.properties.rho))
    .attr("stroke", "#fff")
    .attr("stroke-width", 2)
    .attr("stroke-linejoin", "round");

svg.append("path")
    .attr("d", path({type: "Polygon", coordinates: [closeRing(ceutaOutline)]}))
    .attr("fill", "#dddddd");

// one line of text, y is the middle of the line
function textLine(x, y, str, size, opts) {
    const o = opts || {};
    return svg.append("text")
        .attr("x", x)
        .attr("y", y + size * 0.36)
        .attr("text-anchor", o.anchor || "start")
        .attr("font-size", size)
        .attr("font-weight", o.weight || "normal")
        .attr("font-style", o.style || "normal")
        .attr("fill", o.fill || "#000")
        .text(str);
}

function rhoLine(x, y, value, size, fill) {
    const t = svg.append("text")
        .attr("x", x)
        .attr("y", y + size * 0.36)
        .attr("text-anchor", "middle")
        .attr("font-size", size)
        .attr("fill", fill);
    t.append("tspan").attr("font-style", "italic").text("ρ");
    t.append("tspan").attr("font-style", "italic").attr("font-size", size * 0.7).attr("dy", size * 0.2).text("rel");
    t.append("tspan").attr("dy", -size * 0.2).text(": " + signed(value));
}

// province labels
provinceNames.forEach((name, i) => {
    const [x, y] = projection(labelAnchors[i]);
    const small = name === "Melilla";
    const nameSize = small ? 17 : 20;
    const bodySize = small ? 15.5 : 17;
    textLine(x, y, name, nameSize, {anchor: "middle", weight: "bold", fill: "#111"});
    textLine(x, y + 29, "Empresas: " + empresas[i], bodySize, {anchor: "middle", fill: "#333"});
    rhoLine(x, y + 47, rhoRel[i], bodySize, "#333");
});

// the two cities as dots
svg.append("circle").attr("cx", 1844).attr("cy", 1869).attr("r", 13).attr("fill", "#dddddd");
svg.append("circle").attr("cx", 2129).attr("cy", 1869).attr("r", 13).attr("fill", color(rhoRel[provinceNames.indexOf("Melilla")]));
textLine(1844, 1917, "Ceuta", 16.5, {anchor: "middle", fill: "#555"});
textLine(1844, 1941, "Sin empresas", 14, {anchor: "middle", fill: "#999"});

// title
textLine(1861, 72, "Distribucion geografica ponderada por densidad - Cluster: 8014", 45.6, {anchor: "middle", weight: "bold"});

const sub1 = textLine(1860, 167, "", 22.8, {anchor: "middle", style: "italic"});
sub1.append("tspan").text("ρ");
sub1.append("tspan").attr("font-size", 16).attr("dy", 5).text("rel");
sub1.append("tspan").attr("dy", -5).text(": Densidad relativa respecto a la media nacional. Ej: +0.10 significa un 10% de sobreponderación.");
const sub2 = textLine(1861, 196, "", 22.8, {anchor: "middle", style: "italic"});
sub2.append("tspan").text("(Si una provincia tiene 50 empresas con ρ");
sub2.append("tspan").attr("font-size", 16).attr("dy", 5).text("rel");
sub2.append("tspan").attr("dy", -5).text(" +0.10, tiene un exceso de 5 empresas respecto a su cuota esperada).");

// left panel
const panelX = 160;
textLine(panelX, 397, "Climatización y Energías Renovables", 33, {weight: "bold"});
const groupY = [469, 501, 533, 564, 596];
groupLines.forEach((s, i) => textLine(panelX, groupY[i], s, 27.7));
textLine(panelX, 735, "Total empresas: 2.284", 30.4, {weight: "bold"});
svg.append("line").attr("x1", 159).attr("x2", 763).attr("y1", 776).attr("y2", 776)
    .attr("stroke", "#888").attr("stroke-width", 2);
textLine(panelX, 839, "Top 3 empresas (empleados)", 25.2);
const topY = [898, 941, 984];
topCompanies.forEach((s, i) => textLine(panelX, topY[i], s, 22.8, {style: "italic"}));
textLine(panelX, 1080, "Principales keywords", 25.4, {weight: "bold"});
const keywordY = [1122, 1149, 1175, 1200, 1226, 1254, 1279];
keywordLines.forEach((s, i) => textLine(panelX, keywordY[i], s, 22.7));
textLine(panelX, 1432, "Descripción del cluster", 25.4, {weight: "bold"});
const descY = [1474,1500,1526,1551,1577,1605,1632,1659,1685,1711,1738,1764,1789,1816,1843,1869,1894,1919];
descriptionLines.forEach((s, i) => textLine(panelX, descY[i], s, 22.75, {fill: "#444"}));

// legend
textLine(3225, 1983, "Referencias de colores", 27.5);
const legendY = d3.scalePoint().domain(legendLabels).range([2052, 2282]);
svg.append("g").selectAll("rect")
    .data(legendLabels)
    .join("rect")
    .attr("x", 3226)
    .attr("y", d => legendY(d) - 7.5)
    .attr("width", 48)
    .attr("height", 15)
    .attr("fill", (d, i) => legendColors[i]);
legendLabels.forEach(s => textLine(3296, legendY(s), s, 25.2));
</script>
</body>
</html>
